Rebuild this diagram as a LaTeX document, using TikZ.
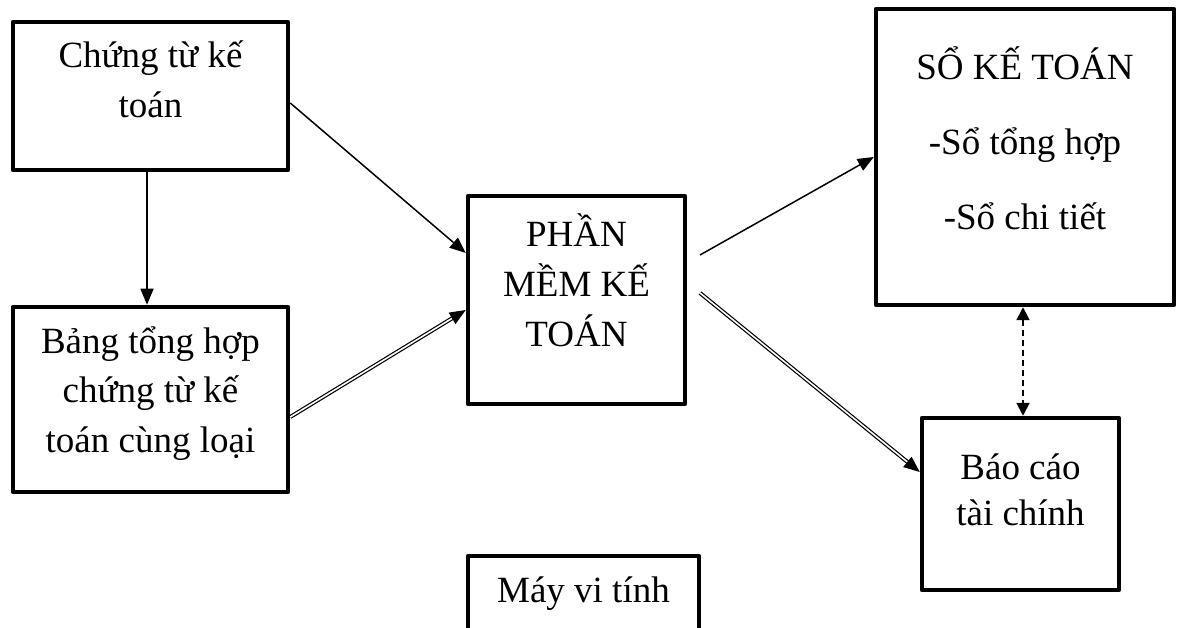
\documentclass[tikz,border=0pt]{standalone}
\usepackage{fontspec}
\setmainfont{Liberation Serif}
\usetikzlibrary{arrows.meta}

% text block inside a box: height, width, gap above first line, lines
\newcommand{\boxtxt}[4]{%
  \parbox[c][#1][t]{#2}{\centering\fontsize{37}{50}\selectfont\vspace*{#3}\strut #4\par}}

\tikzset{
  blk/.style={draw, line width=4.5pt, rectangle, inner sep=0pt, line join=round},
  thinarrow/.style={line width=1.5pt, -{Triangle[length=16pt,width=13pt]}},
  dblarrow/.style={double, double distance=1.6pt, line width=1.2pt,
                   -{Triangle[length=16pt,width=13pt]}},
  dasharrow/.style={line width=2pt, dash pattern=on 6pt off 4pt,
                    {Triangle[length=13pt,width=13pt]}-{Triangle[length=13pt,width=13pt]}}
}

\begin{document}
\begin{tikzpicture}[x=1pt,y=-1pt]
\clip (0,0) rectangle (1181,628);
\fill[white] (0,0) rectangle (1181,628);

% boxes
\node[blk] (ct) at (150.5,96)   {\boxtxt{148pt}{275pt}{11pt}{Chứng từ kế\\toán}};
\node[blk] (bth) at (150.5,399.5) {\boxtxt{185pt}{275pt}{11pt}{Bảng tổng hợp\\chứng từ kế\\toán cùng loại}};
\node[blk] (pm) at (576.5,300)  {\boxtxt{208pt}{217pt}{16pt}{PHẦN\\MỀM KẾ\\TOÁN}};
\node[blk] (so) at (1025,157)   {\boxtxt{296pt}{298pt}{36pt}{SỔ KẾ TOÁN\\[25pt]-Sổ tổng hợp\\[25pt]-Sổ chi tiết}};
\node[blk] (bc) at (1020.5,504) {\boxtxt{172pt}{197pt}{26pt}{Báo cáo\\[-4pt]tài chính}};
\node[blk] (mvt) at (583.5,601) {\boxtxt{90pt}{231pt}{11pt}{Máy vi tính}};

% free starting points of the outgoing arrows
\coordinate (outA) at (700,255);
\coordinate (outB) at (700,293);

% connectors
\draw[thinarrow] (147,0 |- ct.south) -- (147,0 |- bth.north);
\draw[thinarrow] (ct.east |- 0,103) -- (pm.west |- 0,253);
\draw[dblarrow] (bth.east |- 0,417) -- (pm.west |- 0,310);
\draw[thinarrow] (outA) -- (so.west |- 0,157);
\draw[dblarrow] (outB) -- (bc.west |- 0,472);
\draw[dasharrow] (1023,0 |- so.south) -- (1023,0 |- bc.north);
\end{tikzpicture}
\end{document}
